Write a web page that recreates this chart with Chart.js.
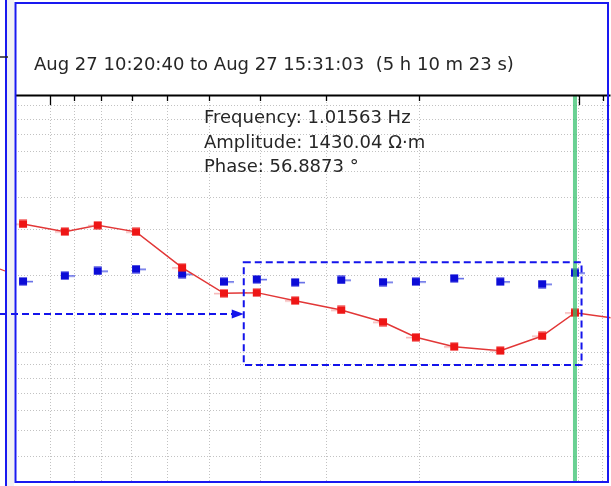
<!DOCTYPE html>
<html>
<head>
<meta charset="utf-8">
<script src="https://cdn.jsdelivr.net/npm/chart.js@4.4.1/dist/chart.umd.min.js"></script>
<style>
html,body{margin:0;padding:0;background:#fff;overflow:hidden}
canvas{display:block}
</style>
</head>
<body>
<canvas id="c" width="611" height="486"></canvas>
<script>
// ---- data ----
const titleText = "Aug 27 10:20:40 to Aug 27 15:31:03  (5 h 10 m 23 s)";
const frequencies = [11.25, 9.375, 8.125, 6.875, 5.625, 4.6875, 4.0625, 3.4375, 2.8125, 2.34375, 2.03125, 1.71875, 1.40625, 1.17188, 1.01563, 0.859375];
const amplitude   = [3148, 2940, 3112, 2935, 2135, 1700, 1710, 1592, 1466, 1317, 1150, 1058, 1021, 1163, 1430.04, 1363];
const phase       = [54.60, 56.12, 57.40, 57.94, 56.58, 54.49, 55.14, 54.32, 54.95, 54.40, 54.49, 55.41, 54.49, 53.86, 56.8873, null];
const freqGrid    = [0.9, 1, 2, 3, 4, 5, 6, 7, 8, 9, 10];
const freqMajor   = [1, 10];
const ampGrid     = [400, 500, 600, 700, 800, 900, 1000, 2000, 3000, 4000, 5000, 6000, 7000, 8000, 9000];
const cursorInfo  = ["Frequency: 1.01563 Hz", "Amplitude: 1430.04 \u03A9\u00B7m", "Phase: 56.8873 \u00B0"];
const cursorFreq  = 1.01563;
const selectionFreq = [4.3, 0.987];
const selectionAmp  = [2239, 899];
const arrowAmp      = 1414;

// ---- markers ----
function makeMarker(color, tailColor, tailLeft) {
  const c = document.createElement('canvas');
  c.width = 20; c.height = 9;
  const g = c.getContext('2d');
  g.fillStyle = tailColor;
  if (tailLeft) g.fillRect(0, 4, 6, 1.5); else g.fillRect(14, 4, 6, 1.5);
  g.fillStyle = color;
  g.fillRect(6, 0.5, 8, 8);
  return c;
}
const redMarker = makeMarker('rgb(238,22,22)', 'rgba(240,130,130,0.6)', true);
const blueMarker = makeMarker('rgb(12,12,215)', 'rgb(90,100,230)', false);

const FONT = '18px "DejaVu Sans", Verdana, sans-serif';

const decor = {
  id: 'decor',
  beforeDraw(chart) {
    const ctx = chart.ctx;
    ctx.save();
    ctx.fillStyle = '#fff';
    ctx.fillRect(0, 0, chart.width, chart.height);
    ctx.fillStyle = '#f1f1f4';
    ctx.fillRect(7, 0, 7, chart.height);
    ctx.restore();
  },
  afterDraw(chart) {
    const ctx = chart.ctx;
    const a = chart.chartArea;
    const xs = chart.scales.x, ys = chart.scales.y;
    ctx.save();
    // cursor line
    const cx = xs.getPixelForValue(cursorFreq);
    ctx.strokeStyle = 'rgba(48,191,105,0.72)';
    ctx.lineWidth = 4;
    ctx.beginPath(); ctx.moveTo(cx, a.top); ctx.lineTo(cx, a.bottom); ctx.stroke();

    // selection rectangle
    const x0 = xs.getPixelForValue(selectionFreq[0]);
    const x1 = xs.getPixelForValue(selectionFreq[1]);
    const y0 = ys.getPixelForValue(selectionAmp[0]);
    const y1 = ys.getPixelForValue(selectionAmp[1]);
    ctx.strokeStyle = 'rgb(20,20,235)';
    ctx.lineWidth = 2;
    ctx.setLineDash([7, 4]);
    ctx.strokeRect(x0, y0, x1 - x0, y1 - y0);
    // arrow
    const ay = ys.getPixelForValue(arrowAmp);
    ctx.beginPath(); ctx.moveTo(0, ay); ctx.lineTo(x0 - 10, ay); ctx.stroke();
    ctx.setLineDash([]);
    ctx.fillStyle = 'rgb(20,20,235)';
    ctx.beginPath(); ctx.moveTo(x0, ay); ctx.lineTo(x0 - 12, ay - 4.5); ctx.lineTo(x0 - 12, ay + 4.5); ctx.closePath(); ctx.fill();

    // top axis line and tick marks
    ctx.strokeStyle = '#000';
    ctx.lineWidth = 2;
    ctx.beginPath(); ctx.moveTo(a.left, a.top - 0.5); ctx.lineTo(a.right, a.top - 0.5); ctx.stroke();
    ctx.lineWidth = 1.3;
    freqGrid.forEach(v => {
      const px = Math.round(xs.getPixelForValue(v)) + 0.5;
      const len = freqMajor.includes(v) ? 9 : 5;
      ctx.beginPath(); ctx.moveTo(px, a.top); ctx.lineTo(px, a.top + len); ctx.stroke();
    });

    // frames
    ctx.strokeStyle = 'rgb(25,25,240)';
    ctx.lineWidth = 2;
    ctx.strokeRect(15.5, 3, 592.5, 479);
    ctx.beginPath(); ctx.moveTo(6, 0); ctx.lineTo(6, chart.height); ctx.stroke();
    // left-edge fragments of the neighbouring panel
    ctx.strokeStyle = '#222'; ctx.lineWidth = 1.5;
    ctx.beginPath(); ctx.moveTo(0, 57); ctx.lineTo(8, 57); ctx.stroke();
    ctx.strokeStyle = 'rgb(230,60,60)'; ctx.lineWidth = 1.2;
    ctx.beginPath(); ctx.moveTo(0, 269); ctx.lineTo(5, 271); ctx.stroke();

    // texts
    ctx.font = FONT;
    ctx.fillStyle = '#262626';
    ctx.textBaseline = 'alphabetic';
    ctx.fillText(titleText, 34, 70);
    cursorInfo.forEach((t, i) => ctx.fillText(t, 204, 123 + i * 24.5));
    ctx.restore();
  }
};

const gridOpts = { color: 'rgba(0,0,0,0.24)', lineWidth: 1, drawTicks: false };

new Chart(document.getElementById('c'), {
  data: {
    datasets: [
      {
        type: 'line',
        label: 'Amplitude',
        data: frequencies.map((f, i) => ({ x: f, y: amplitude[i] })),
        borderColor: 'rgb(226,55,55)',
        borderWidth: 1.5,
        pointStyle: redMarker,
        pointRadius: ctx => (ctx.dataIndex === frequencies.length - 1 ? 0 : 0.5),
        pointBorderWidth: 0,
        pointHoverRadius: 0,
        yAxisID: 'y',
        order: 1
      },
      {
        type: 'line',
        label: 'Phase',
        data: frequencies.map((f, i) => ({ x: f, y: phase[i] })),
        showLine: false,
        borderWidth: 0,
        pointStyle: blueMarker,
        pointRadius: 0.5,
        pointBorderWidth: 0,
        pointHoverRadius: 0,
        yAxisID: 'y2',
        order: 2
      }
    ]
  },
  options: {
    responsive: false,
    animation: false,
    devicePixelRatio: 1,
    layout: { padding: { left: 15, right: 0, top: 96, bottom: 4 } },
    plugins: { legend: { display: false }, tooltip: { enabled: false }, title: { display: false } },
    scales: {
      x: {
        type: 'logarithmic', position: 'top', reverse: true,
        min: 0.870, max: 11.65, bounds: 'data',
        ticks: { display: false },
        grid: gridOpts,
        border: { display: false, dash: [1, 2] },
        afterBuildTicks: s => { s.ticks = freqGrid.map(v => ({ value: v })); }
      },
      y: {
        type: 'logarithmic', position: 'left',
        min: 317.7, max: 9817, bounds: 'data',
        ticks: { display: false },
        grid: gridOpts,
        border: { display: false, dash: [1, 2] },
        afterBuildTicks: s => { s.ticks = ampGrid.map(v => ({ value: v })); }
      },
      y2: {
        type: 'linear', position: 'right', display: false,
        min: 0, max: 105
      }
    }
  },
  plugins: [decor]
});
</script>
</body>
</html>
